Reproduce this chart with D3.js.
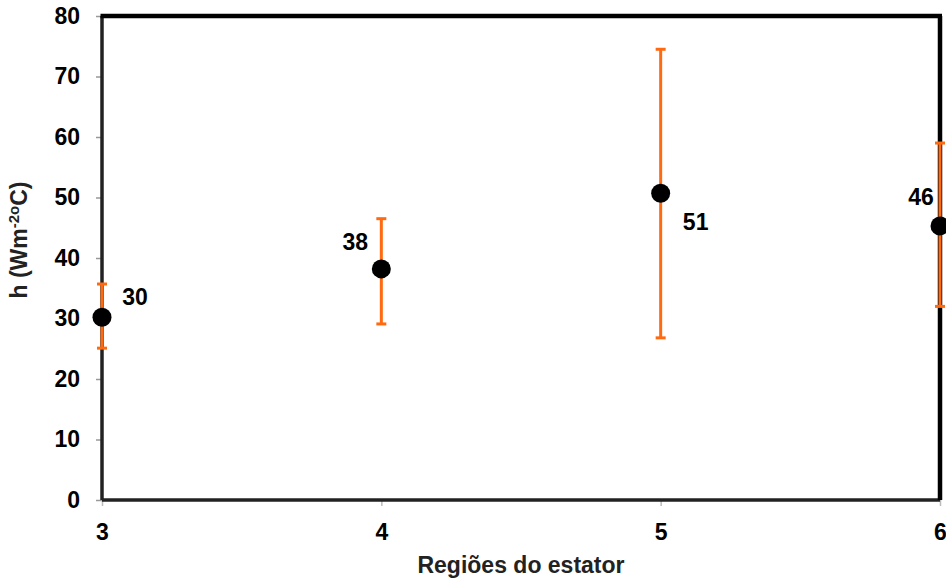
<!DOCTYPE html>
<html><head><meta charset="utf-8">
<script src="https://cdn.jsdelivr.net/npm/d3@7"></script>
<style>body{margin:0;background:#fff}svg{display:block}text{font-family:"Liberation Sans",Arial,sans-serif;font-weight:bold}</style>
</head><body>
<svg id="c" width="946" height="581"></svg>
<script>
const regions = [3, 4, 5, 6];
const hValues = [30.2, 38.2, 50.7, 45.3];
const errLow = [25.1, 29.1, 26.8, 32.0];
const errHigh = [35.7, 46.5, 74.5, 59.0];
const pointLabels = ["30", "38", "51", "46"];
const yTicks = [0, 10, 20, 30, 40, 50, 60, 70, 80];
const xTicks = [3, 4, 5, 6];

const svg = d3.select("#c");
const L = 102, R = 940, T = 16, B = 500;
const x = d3.scaleLinear().domain([3, 6]).range([L, R]);
const y = d3.scaleLinear().domain([0, 80]).range([B, T]);
const FS = 23;

// y axis
const ya = svg.append("g").attr("transform", `translate(${L},0)`)
  .call(d3.axisLeft(y).tickValues(yTicks).tickSize(6).tickPadding(16));
ya.select(".domain").remove();
ya.selectAll("line").attr("stroke", "#999").attr("stroke-width", 1.5);
ya.selectAll("text").attr("font-size", FS).attr("fill", "#000").attr("font-family", "Liberation Sans, Arial, sans-serif").attr("font-weight", "bold");

// x axis
const xa = svg.append("g").attr("transform", `translate(0,${B})`)
  .call(d3.axisBottom(x).tickValues(xTicks).tickFormat(d3.format("d")).tickSize(6).tickPadding(18));
xa.select(".domain").remove();
xa.selectAll("line").attr("stroke", "#bbb").attr("stroke-width", 1.5);
xa.selectAll("text").attr("font-size", FS).attr("fill", "#000").attr("font-family", "Liberation Sans, Arial, sans-serif").attr("font-weight", "bold");

// frame
svg.append("line").attr("x1", L).attr("x2", L).attr("y1", T).attr("y2", B).attr("stroke", "#222").attr("stroke-width", 3.5);
svg.append("line").attr("x1", L).attr("x2", R).attr("y1", B).attr("y2", B).attr("stroke", "#222").attr("stroke-width", 3.5);
svg.append("line").attr("x1", L - 1.5).attr("x2", R + 2).attr("y1", T).attr("y2", T).attr("stroke", "#000").attr("stroke-width", 4.5);
svg.append("line").attr("x1", R).attr("x2", R).attr("y1", T).attr("y2", B).attr("stroke", "#000").attr("stroke-width", 4.5);

// error bars
const orange = "#FF6A10";
const eb = svg.append("g");
regions.forEach((r, i) => {
  eb.append("line").attr("x1", x(r)).attr("x2", x(r)).attr("y1", y(errLow[i])).attr("y2", y(errHigh[i]))
    .attr("stroke", orange).attr("stroke-width", 3);
  [errLow[i], errHigh[i]].forEach(v => {
    eb.append("line").attr("x1", x(r) - 5).attr("x2", x(r) + 5).attr("y1", y(v)).attr("y2", y(v))
      .attr("stroke", orange).attr("stroke-width", 3);
  });
});

// points
svg.append("g").selectAll("circle").data(regions).join("circle")
  .attr("cx", d => x(d)).attr("cy", (d, i) => y(hValues[i])).attr("r", 9.5).attr("fill", "#000");

// labels
const offs = [[33, -20], [-26, -27], [35, 29], [-19, -29]];
svg.append("g").selectAll("text").data(regions).join("text")
  .attr("x", (d, i) => x(d) + offs[i][0]).attr("y", (d, i) => y(hValues[i]) + offs[i][1])
  .attr("text-anchor", "middle").attr("dominant-baseline", "central")
  .attr("font-size", FS).attr("fill", "#000").text((d, i) => pointLabels[i]);

// axis titles
svg.append("text").attr("x", (L + R) / 2).attr("y", 573).attr("text-anchor", "middle")
  .attr("font-size", FS).attr("fill", "#222").text("Regiões do estator");

const yt = svg.append("text").attr("transform", `translate(27,240) rotate(-90)`)
  .attr("text-anchor", "middle").attr("font-size", FS).attr("fill", "#222");
yt.append("tspan").text("h (Wm");
yt.append("tspan").attr("font-size", 15).attr("dy", -8).text("-2o");
yt.append("tspan").attr("dy", 8).text("C)");
</script>
</body></html>
